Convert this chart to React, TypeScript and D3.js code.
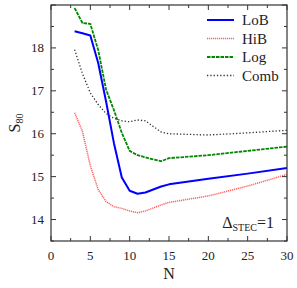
import React, { useEffect, useRef } from "react";
import * as d3 from "d3";

const nValues = [3, 4, 5, 6, 7, 8, 9, 10, 11, 12, 13, 14, 15, 20, 25, 30];
const lobValues = [18.39, 18.34, 18.29, 17.65, 16.75, 15.78, 14.98, 14.67, 14.6, 14.63, 14.7, 14.77, 14.82, 14.95, 15.07, 15.2];
const hibValues = [16.49, 16.05, 15.25, 14.7, 14.42, 14.3, 14.26, 14.2, 14.16, 14.2, 14.27, 14.34, 14.4, 14.55, 14.78, 15.05];
const logValues = [18.93, 18.58, 18.56, 17.95, 17.03, 16.55, 16.02, 15.6, 15.5, 15.45, 15.4, 15.36, 15.43, 15.5, 15.6, 15.7];
const combValues = [17.96, 17.4, 16.95, 16.68, 16.47, 16.36, 16.3, 16.28, 16.32, 16.3, 16.17, 16.04, 16.0, 15.97, 16.02, 16.08];

const xTicks = [0, 5, 10, 15, 20, 25, 30];
const yTicks = [14, 15, 16, 17, 18];

type Series = {
  name: string;
  values: number[];
  color: string;
  width: number;
  dash: string | null;
};

const series: Series[] = [
  { name: "LoB", values: lobValues, color: "#0000ff", width: 2, dash: null },
  { name: "HiB", values: hibValues, color: "#ff6060", width: 1.5, dash: "1.2,0.8" },
  { name: "Log", values: logValues, color: "#008800", width: 1.8, dash: "3.5,1" },
  { name: "Comb", values: combValues, color: "#333333", width: 1.3, dash: "1.3,2" },
];

const W = 297;
const H = 288;
const margin = { left: 51, right: 10, top: 5, bottom: 47 };
const font = "'Liberation Serif', 'Times New Roman', serif";

export default function App() {
  const svgRef = useRef<SVGSVGElement>(null);

  useEffect(() => {
    if (!svgRef.current) return;
    const svg = d3.select(svgRef.current);
    svg.selectAll("*").remove();

    const x = d3.scaleLinear().domain([0, 30]).range([margin.left, W - margin.right]);
    const y = d3.scaleLinear().domain([13.5, 19]).range([H - margin.bottom, margin.top]);
    const frame = "#333";

    const plot = svg.append("g");

    series.forEach((s) => {
      const line = d3
        .line<number>()
        .x((_d, i) => x(nValues[i]))
        .y((d) => y(d));
      plot
        .append("path")
        .datum(s.values)
        .attr("d", line)
        .attr("fill", "none")
        .attr("stroke", s.color)
        .attr("stroke-width", s.width)
        .attr("stroke-dasharray", s.dash ?? null)
        .attr("stroke-linejoin", "round");
    });

    // frame
    const [x0, x1] = x.range();
    const [y0, y1] = y.range();
    svg
      .append("rect")
      .attr("x", x0)
      .attr("y", y1)
      .attr("width", x1 - x0)
      .attr("height", y0 - y1)
      .attr("fill", "none")
      .attr("stroke", frame)
      .attr("stroke-width", 1.2);

    const ticks = svg.append("g").attr("stroke", frame).attr("stroke-width", 1);
    d3.range(0, 30.01, 2.5).forEach((v) => {
      const len = v % 5 === 0 ? 5 : 3;
      ticks.append("line").attr("x1", x(v)).attr("x2", x(v)).attr("y1", y0).attr("y2", y0 - len);
      ticks.append("line").attr("x1", x(v)).attr("x2", x(v)).attr("y1", y1).attr("y2", y1 + len);
    });
    d3.range(13.5, 19.01, 0.5).forEach((v) => {
      const len = Math.abs(v - Math.round(v)) < 0.01 ? 5 : 3;
      ticks.append("line").attr("x1", x0).attr("x2", x0 + len).attr("y1", y(v)).attr("y2", y(v));
      ticks.append("line").attr("x1", x1).attr("x2", x1 - len).attr("y1", y(v)).attr("y2", y(v));
    });

    const labels = svg.append("g").style("font-family", font).attr("font-size", 13).attr("fill", "#222");
    xTicks.forEach((v) => {
      labels.append("text").attr("x", x(v)).attr("y", y0 + 19).attr("text-anchor", "middle").text(v);
    });
    yTicks.forEach((v) => {
      labels.append("text").attr("x", x0 - 7).attr("y", y(v) + 4.5).attr("text-anchor", "end").text(v);
    });

    labels
      .append("text")
      .attr("x", (x0 + x1) / 2)
      .attr("y", 279)
      .attr("text-anchor", "middle")
      .attr("font-size", 16)
      .text("N");

    const yl = labels
      .append("text")
      .attr("transform", `translate(20,${(y0 + y1) / 2}) rotate(-90)`)
      .attr("text-anchor", "middle")
      .attr("font-size", 16);
    yl.append("tspan").text("S");
    yl.append("tspan").attr("font-size", 10).attr("dy", 3).text("80");

    const ann = labels.append("text").attr("x", x1 - 13).attr("y", 228).attr("text-anchor", "end").attr("font-size", 16);
    ann.append("tspan").text("Δ");
    ann.append("tspan").attr("font-size", 10).attr("dy", 3).text("STEC");
    ann.append("tspan").attr("dy", -3).text("=1");

    const legend = svg.append("g").style("font-family", font);
    series.forEach((s, i) => {
      const ly = 20 + i * 18.5;
      legend
        .append("line")
        .attr("x1", 207)
        .attr("x2", 234)
        .attr("y1", ly)
        .attr("y2", ly)
        .attr("stroke", s.color)
        .attr("stroke-width", s.width)
        .attr("stroke-dasharray", s.dash ?? null);
      legend
        .append("text")
        .attr("x", 242)
        .attr("y", ly + 5)
        .attr("font-size", 15)
        .attr("fill", "#222")
        .text(s.name);
    });
  }, []);

  return (
    <div style={{ position: "fixed", left: 0, top: 0 }}>
      <svg ref={svgRef} width={W} height={H} style={{ display: "block", background: "#fff" }} />
    </div>
  );
}
